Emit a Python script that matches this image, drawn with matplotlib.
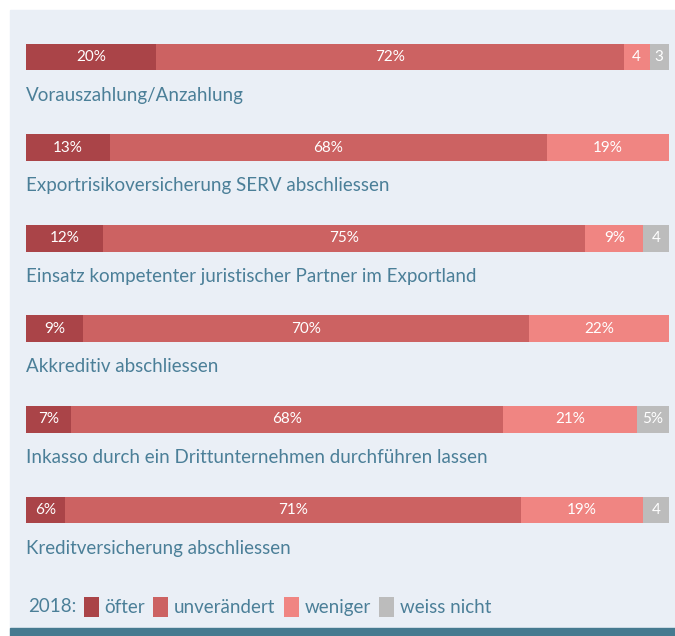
import matplotlib
matplotlib.use("Agg")
import matplotlib.pyplot as plt
from matplotlib.patches import Rectangle, Patch
import numpy as np

# Daten
massnahmen = [
    "Vorauszahlung/Anzahlung",
    "Exportrisikoversicherung SERV abschliessen",
    "Einsatz kompetenter juristischer Partner im Exportland",
    "Akkreditiv abschliessen",
    "Inkasso durch ein Drittunternehmen durchführen lassen",
    "Kreditversicherung abschliessen",
]
oefter = [20, 13, 12, 9, 7, 6]
unveraendert = [72, 68, 75, 70, 68, 71]
weniger = [4, 19, 9, 22, 21, 19]
weiss_nicht = [3, 0, 4, 0, 5, 4]
kategorien = ["öfter", "unverändert", "weniger", "weiss nicht"]
jahr = "2018:"

farben = ["#aa4448", "#cc6262", "#f08582", "#bcbcbc"]
text_farbe = "#4b7f98"
hintergrund = "#eaeff6"
fuss_farbe = "#467a90"
fonts = ["Lato", "DejaVu Sans"]

W, H = 675, 636
fig = plt.figure(figsize=(W / 100, H / 100), dpi=100)
fig.patch.set_facecolor("white")

# Hintergrundfläche und Fussleiste
fig.add_artist(Rectangle((10 / W, 8 / H), 1 - 10 / W, 1 - 18 / H,
                         transform=fig.transFigure, color=hintergrund, zorder=0))
fig.add_artist(Rectangle((10 / W, 0), 1 - 10 / W, 8 / H,
                         transform=fig.transFigure, color=fuss_farbe, zorder=0))

# Achse für die Balken
row_px = 90.6
top_px = 57 - row_px / 2
ax = fig.add_axes([26 / W, 1 - (top_px + 6 * row_px) / H, (669 - 26) / W, 6 * row_px / H])
ax.set_facecolor("none")
ax.set_xlim(0, 1)
ax.set_ylim(5.5, -0.5)
ax.axis("off")

daten = np.array([oefter, unveraendert, weniger, weiss_nicht], dtype=float)
anteile = daten / daten.sum(axis=0)
y = np.arange(len(massnahmen))
links = np.zeros(len(massnahmen))
for k in range(len(kategorien)):
    ax.barh(y, anteile[k], left=links, height=0.298, color=farben[k], linewidth=0)
    for i in range(len(massnahmen)):
        v = daten[k, i]
        if v > 0:
            txt = f"{int(v)}%" if v >= 5 else f"{int(v)}"
            ax.text(links[i] + anteile[k, i] / 2, y[i], txt, ha="center", va="center",
                    color="white", fontsize=11, family=fonts)
    links += anteile[k]

for i, name in enumerate(massnahmen):
    ax.text(0, y[i] + 0.42, name, ha="left", va="center", color=text_farbe,
            fontsize=13.5, family=fonts)

# Legende
fig.text(28 / W, 1 - 607 / H, jahr, ha="left", va="center", color=text_farbe,
         fontsize=13.5, family=fonts)
handles = [Patch(facecolor=c, edgecolor="none") for c in farben]
leg = fig.legend(handles, kategorien, loc="center left", bbox_to_anchor=(76 / W, 1 - 607 / H),
                 ncol=4, frameon=False, handlelength=0.8, handleheight=1.2,
                 handletextpad=0.3, columnspacing=0.45, borderaxespad=0,
                 prop={"family": fonts, "size": 13.5})
for t in leg.get_texts():
    t.set_color(text_farbe)

fig.savefig("out.png", dpi=100, facecolor="white")
